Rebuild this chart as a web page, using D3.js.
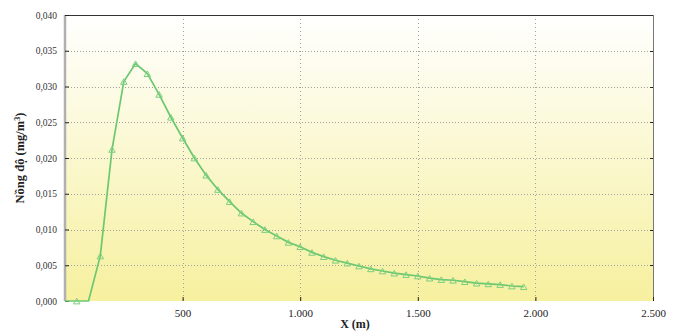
<!DOCTYPE html>
<html>
<head>
<meta charset="utf-8">
<script src="https://cdn.jsdelivr.net/npm/d3@7"></script>
<style>
  body { margin: 0; background: #fff; }
  text { font-family: "Liberation Serif", "DejaVu Serif", serif; }
</style>
</head>
<body>
<svg id="chart" width="673" height="332"></svg>
<script>
// distance from source (m) and concentration (mg/m3)
var distX = [0, 50, 100, 150, 200, 250, 300, 350, 400, 450, 500, 550, 600, 650, 700, 750, 800, 850, 900, 950,
             1000, 1050, 1100, 1150, 1200, 1250, 1300, 1350, 1400, 1450, 1500, 1550, 1600, 1650, 1700, 1750, 1800, 1850, 1900, 1950];
var concY = [0, 0, 0, 0.0063, 0.0212, 0.0307, 0.0332, 0.0318, 0.0289, 0.0257, 0.0228, 0.0200, 0.0176, 0.0156, 0.0139, 0.0123, 0.0111, 0.0100, 0.0091, 0.0082,
             0.0076, 0.0068, 0.0062, 0.0057, 0.0053, 0.0049, 0.0045, 0.0042, 0.0039, 0.0037, 0.0035, 0.0032, 0.0030, 0.0029, 0.0027, 0.0025, 0.0024, 0.0023, 0.0021, 0.0020];
var xTicks = [500, 1000, 1500, 2000, 2500];
var yTicks = [0, 0.005, 0.01, 0.015, 0.02, 0.025, 0.03, 0.035, 0.04];

var svg = d3.select("#chart");
var pLeft = 65, pRight = 653, pTop = 15, pBottom = 301;

var x = d3.scaleLinear().domain([0, 2500]).range([pLeft, pRight]);
var y = d3.scaleLinear().domain([0, 0.04]).range([pBottom, pTop]);

var fmtY = function(d) { return d3.format(".3f")(d).replace(".", ","); };
var fmtX = function(d) { return d3.format(",")(d).replace(/,/g, "."); };

// background gradient
var grad = svg.append("defs").append("linearGradient")
    .attr("id", "bg").attr("x1", 0).attr("y1", 0).attr("x2", 0).attr("y2", 1);
grad.append("stop").attr("offset", "0%").attr("stop-color", "#ffffff");
grad.append("stop").attr("offset", "100%").attr("stop-color", "#f6f09e");

svg.append("rect")
    .attr("x", pLeft).attr("y", pTop)
    .attr("width", pRight - pLeft).attr("height", pBottom - pTop)
    .style("fill", "url(#bg)");

// grid
svg.append("g").selectAll("line")
    .data(yTicks.slice(1, -1))
    .enter().append("line")
    .attr("x1", pLeft).attr("x2", pRight)
    .attr("y1", function(d) { return Math.round(y(d)) + 0.5; })
    .attr("y2", function(d) { return Math.round(y(d)) + 0.5; })
    .style("stroke", "#a0a0a0").style("stroke-dasharray", "1,2");

svg.append("g").selectAll("line")
    .data(xTicks.slice(0, -1))
    .enter().append("line")
    .attr("y1", pTop).attr("y2", pBottom)
    .attr("x1", function(d) { return Math.round(x(d)) + 0.5; })
    .attr("x2", function(d) { return Math.round(x(d)) + 0.5; })
    .style("stroke", "#a0a0a0").style("stroke-dasharray", "1,3");

// frame
svg.append("line").attr("x1", pLeft).attr("x2", pRight + 1).attr("y1", pTop + 0.5).attr("y2", pTop + 0.5)
    .style("stroke", "#333").style("stroke-width", 1.2);
svg.append("line").attr("x1", pRight + 0.5).attr("x2", pRight + 0.5).attr("y1", pTop).attr("y2", pBottom)
    .style("stroke", "#777");
svg.append("line").attr("x1", pLeft).attr("x2", pLeft).attr("y1", pTop).attr("y2", pBottom)
    .style("stroke", "#b0b0b0").style("stroke-width", 2.5);

// axes
var yAxis = d3.axisLeft(y).tickValues(yTicks).tickFormat(fmtY).tickSize(-4).tickPadding(8);
var gy = svg.append("g").attr("transform", "translate(" + pLeft + ",0)").call(yAxis);
gy.select(".domain").remove();
gy.selectAll(".tick line").style("stroke", "#222");
gy.selectAll("text").style("font-size", "9.5px").style("fill", "#333");

svg.append("g").attr("transform", "translate(" + pRight + ",0)")
    .selectAll("line").data(yTicks.slice(1, -1)).enter().append("line")
    .attr("x1", -3).attr("x2", 0)
    .attr("y1", function(d) { return Math.round(y(d)) + 0.5; })
    .attr("y2", function(d) { return Math.round(y(d)) + 0.5; })
    .style("stroke", "#222");

var xAxis = d3.axisBottom(x).tickValues(xTicks).tickFormat(fmtX).tickSize(-4).tickPadding(8);
var gx = svg.append("g").attr("transform", "translate(0," + pBottom + ")").call(xAxis);
gx.select(".domain").remove();
gx.selectAll(".tick line").style("stroke", "#222");
gx.selectAll("text").style("font-size", "11px").style("fill", "#222");

// axis titles
svg.append("text")
    .attr("x", 355).attr("y", 328)
    .attr("text-anchor", "middle")
    .style("font-size", "12px").style("font-weight", "bold").style("fill", "#222")
    .text("X (m)");

var yt = svg.append("text")
    .attr("transform", "translate(24,158) rotate(-90)")
    .attr("text-anchor", "middle")
    .style("font-size", "12.5px").style("font-weight", "bold").style("fill", "#222");
yt.append("tspan").text("Nồng độ (mg/m");
yt.append("tspan").attr("dy", -4).style("font-size", "8px").text("3");
yt.append("tspan").attr("dy", 4).text(")");

// series
var pts = distX.map(function(d, i) { return [d, concY[i]]; });

svg.append("path")
    .datum(pts)
    .style("fill", "none")
    .style("stroke", "#6cc870")
    .style("stroke-width", "1.7px")
    .attr("d", d3.line()
        .x(function(d) { return x(d[0]); })
        .y(function(d) { return y(d[1]); }));

svg.append("g").selectAll("path")
    .data(pts.filter(function(d, i) { return i === 1 || i > 2; }))
    .enter().append("path")
    .attr("transform", function(d) { return "translate(" + x(d[0]) + "," + (y(d[1]) + 1) + ")"; })
    .attr("d", d3.symbol().type(d3.symbolTriangle).size(18))
    .style("fill", "none")
    .style("stroke", "#7ccf80")
    .style("stroke-width", "1px");
</script>
</body>
</html>
